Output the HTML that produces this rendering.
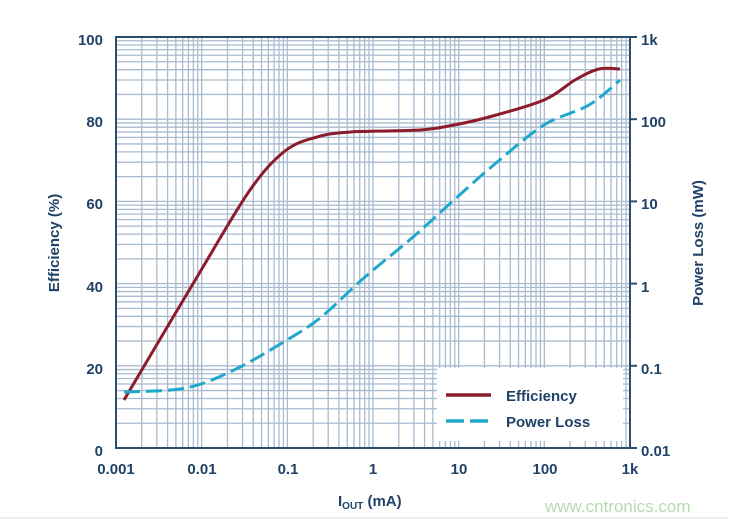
<!DOCTYPE html>
<html><head><meta charset="utf-8"><style>
body{margin:0;background:#fff;width:729px;height:521px;overflow:hidden}
text{font-family:"Liberation Sans",Arial,sans-serif;font-weight:bold;fill:#1f4266}
</style></head><body>
<svg width="729" height="521" xmlns="http://www.w3.org/2000/svg">
<g id="grid" stroke="#a9bbcf" stroke-width="1.3"></g>
<rect x="437" y="368" width="186" height="73" fill="#fff"/>
<rect x="116" y="37" width="514" height="411" fill="none" stroke="#2b4d6e" stroke-width="2"/>
<g id="ticks" stroke="#2b4d6e" stroke-width="2"></g>
<path id="eff" d="" fill="none" stroke="#8c1c2c" stroke-width="3"/>
<path id="pl" d="" fill="none" stroke="#1fa8cc" stroke-width="3" stroke-dasharray="16,6"/>
<line x1="446" y1="395" x2="491" y2="395" stroke="#8c1c2c" stroke-width="3.5"/>
<line x1="446" y1="421" x2="491" y2="421" stroke="#1fa8cc" stroke-width="3.5" stroke-dasharray="18,6"/>
<text x="506" y="401" font-size="15">Efficiency</text>
<text x="506" y="427" font-size="15">Power Loss</text>
<g font-size="15" text-anchor="end">
<text x="103" y="45">100</text><text x="103" y="127">80</text><text x="103" y="209">60</text><text x="103" y="292">40</text><text x="103" y="374">20</text><text x="103" y="456">0</text>
</g>
<g font-size="15" text-anchor="start">
<text x="641" y="45">1k</text><text x="641" y="127">100</text><text x="641" y="209">10</text><text x="641" y="292">1</text><text x="641" y="374">0.1</text><text x="641" y="456">0.01</text>
</g>
<g font-size="15" text-anchor="middle">
<text x="116" y="474">0.001</text><text x="202" y="474">0.01</text><text x="288" y="474">0.1</text><text x="373" y="474">1</text><text x="459" y="474">10</text><text x="545" y="474">100</text><text x="630" y="474">1k</text>
</g>
<text x="338" y="506" font-size="15">I<tspan font-size="10" dy="3">OUT</tspan><tspan dy="-3"> (mA)</tspan></text>
<text transform="translate(59,243) rotate(-90)" font-size="15" text-anchor="middle">Efficiency (%)</text>
<text transform="translate(703,243) rotate(-90)" font-size="15" text-anchor="middle">Power Loss (mW)</text>
<text x="545" y="512" font-size="17" style="font-weight:normal;fill:#b5dcb0">www.cntronics.com</text>
<line x1="0" y1="518" x2="729" y2="518" stroke="#ddd"/>
</svg>
<script>
var g=document.getElementById('grid'),t=document.getElementById('ticks'),ns='http://www.w3.org/2000/svg';
function L(p,x1,y1,x2,y2){var l=document.createElementNS(ns,'line');l.setAttribute('x1',x1);l.setAttribute('y1',y1);l.setAttribute('x2',x2);l.setAttribute('y2',y2);p.appendChild(l);}
var dx=514/6,dy=411/5;
for(var d=0;d<6;d++)for(var k=1;k<10;k++){var x=116+dx*(d+Math.log10(k));L(g,x,37,x,448);}
for(var d=0;d<5;d++)for(var k=1;k<10;k++){var y=448-dy*(d+Math.log10(k));L(g,116,y,630,y);}
for(var i=0;i<=5;i++){var y=448-dy*i;L(t,630,y,637,y);}
function cr(P){var s='M'+P[0][0]+','+P[0][1];for(var i=0;i<P.length-1;i++){var p0=P[i>0?i-1:0],p1=P[i],p2=P[i+1],p3=P[i+2<P.length?i+2:i+1];
s+=' C'+(p1[0]+(p2[0]-p0[0])/6)+','+(p1[1]+(p2[1]-p0[1])/6)+' '+(p2[0]-(p3[0]-p1[0])/6)+','+(p2[1]-(p3[1]-p1[1])/6)+' '+p2[0]+','+p2[1];}return s;}
document.getElementById('eff').setAttribute('d',cr([[124,400],[200,272],[250,190],[285,151],[317,137],[351,132],[420,130],[454,125],[489,117],[544,100],[575,80],[599,69],[620,69]]));
document.getElementById('pl').setAttribute('d',cr([[124,392],[186,388],[234,370],[282,343],[320,318],[365,277],[413,237],[454,200],[496,163],[544,125],[589,105],[620,80]]));
</script>
</body></html>
